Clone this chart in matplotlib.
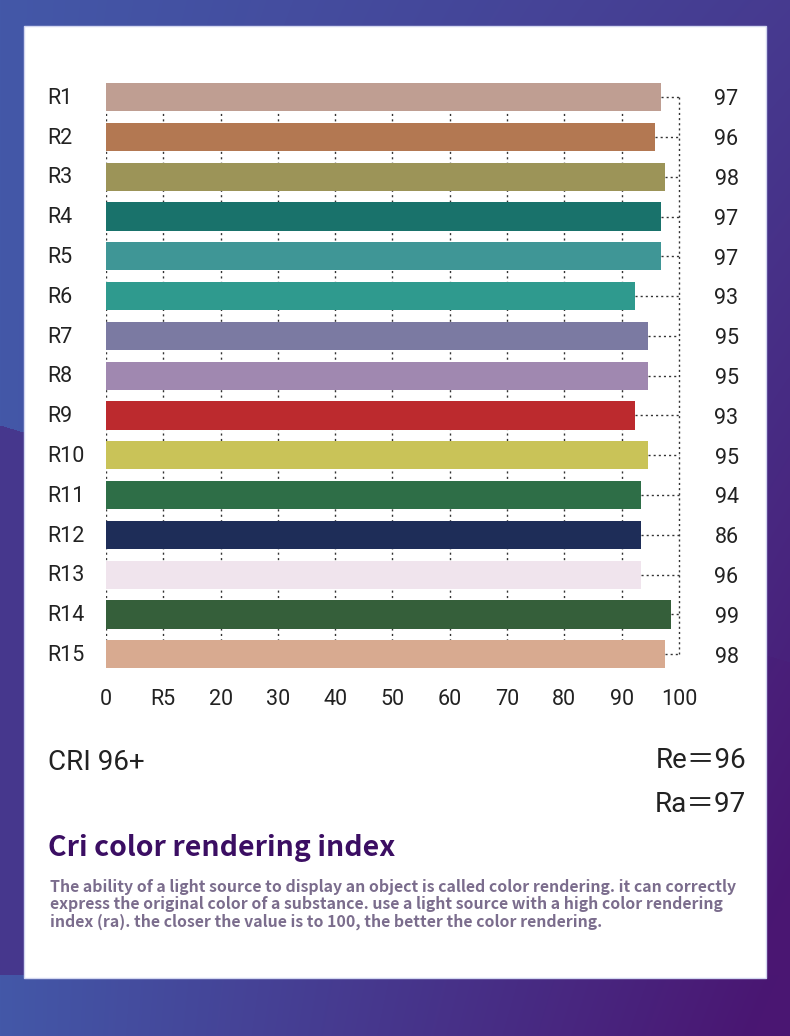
import numpy as np
import matplotlib
matplotlib.use('Agg')
import matplotlib.pyplot as plt
from matplotlib.transforms import blended_transform_factory
from matplotlib.patches import Rectangle

categories = ['R1', 'R2', 'R3', 'R4', 'R5', 'R6', 'R7', 'R8', 'R9', 'R10',
              'R11', 'R12', 'R13', 'R14', 'R15']
bar_values = [96.8, 95.8, 97.6, 96.8, 96.8, 92.4, 94.6, 94.6, 92.4, 94.6,
              93.4, 93.4, 93.4, 98.6, 97.6]
label_values = [97, 96, 98, 97, 97, 93, 95, 95, 93, 95, 94, 86, 96, 99, 98]
bar_colors = ['#bf9e92', '#b37852', '#9c9458', '#19726b', '#3f9696',
              '#2f9a8e', '#7b7aa2', '#a088b0', '#bc2a2e', '#c9c358',
              '#2e6e47', '#1e2d58', '#f0e4ed', '#355f3a', '#d8aa90']
tick_values = [0, 10, 20, 30, 40, 50, 60, 70, 80, 90, 100]
tick_labels = ['0', 'R5', '20', '30', '40', '50', '60', '70', '80', '90', '100']

plt.rcParams['font.family'] = ['Roboto', 'DejaVu Sans']

W, H = 790, 1036
fig = plt.figure(figsize=(W / 100, H / 100), dpi=100)

# background
bg = fig.add_axes([0, 0, 1, 1])
bg.set_xlim(0, W)
bg.set_ylim(H, 0)
bg.axis('off')
yy, xx = np.mgrid[0:H, 0:W].astype(float)
t = (xx / W) * (0.45 + 0.6 * yy / H)
mask = (yy > 425 + 0.3 * xx) & (yy < 975)
t = t + mask * 0.5 * np.exp(-xx / 300.0)
t = np.clip(t, 0, 1)
blue = np.array([67, 88, 168]) / 255.0
purple = np.array([74, 22, 114]) / 255.0
img = blue[None, None, :] * (1 - t[..., None]) + purple[None, None, :] * t[..., None]
bg.imshow(img, extent=(0, W, H, 0), aspect='auto', zorder=0)
bg.add_patch(Rectangle((24, 26), 742, 952, facecolor='white',
                       edgecolor='#d3d7f0', lw=1, zorder=1))

# main chart
ax = fig.add_axes([106 / W, 1 - 668.4 / H, 573 / W, 585.4 / H])
ax.patch.set_alpha(0)
for s in ax.spines.values():
    s.set_visible(False)
y = np.arange(len(categories))
ax.set_xlim(0, 100)
ax.set_ylim(len(categories) - 1 + 0.355, -0.355)

ax.barh(y, bar_values, height=0.71, color=bar_colors, zorder=3)
for v in tick_values[:-1]:
    ax.axvline(v, color='#333333', lw=1.0, ls=(0, (1.5, 2.4)), zorder=1)
ax.hlines(y, bar_values, 100, colors='#333333', lw=1.0,
          linestyles=(0, (1.5, 2.2)), zorder=2, clip_on=False)
ax.vlines(100, 0, len(categories) - 1, colors='#333333', lw=1.0,
          linestyles=(0, (1.5, 2.2)), zorder=2, clip_on=False)

ax.set_xticks(tick_values, tick_labels)
ax.set_yticks([])
ax.tick_params(axis='x', length=0, pad=15, labelsize=15.5, labelcolor='#222222')

trans = blended_transform_factory(fig.transFigure, ax.transData)
for i, c in enumerate(categories):
    ax.text(47 / W, i + 0.03, c, transform=trans, ha='left', va='center',
            fontsize=15.5, color='#222222')
for i, v in enumerate(label_values):
    ax.text(726.5 / W, i + 0.07, str(v), transform=trans, ha='center',
            va='center', fontsize=15.5, color='#222222')

# footer texts
fig.text(48 / W, 1 - 762 / H, 'CRI 96+', ha='left', va='center',
         fontsize=20, color='#222222')
fig.text(746 / W, 1 - 761 / H, 'Re＝96', ha='right', va='center',
         fontsize=20, color='#222222', family=['Roboto', 'Noto Sans CJK SC'])
fig.text(746 / W, 1 - 804 / H, 'Ra＝97', ha='right', va='center',
         fontsize=20, color='#222222', family=['Roboto', 'Noto Sans CJK SC'])

fig.text(48 / W, 1 - 848 / H, 'Cri color rendering index', ha='left',
         va='center', fontsize=20.5, fontweight='bold', color='#3b0e63',
         family=['Noto Sans CJK SC', 'DejaVu Sans'])

desc_lines = [
    'The ability of a light source to display an object is called color rendering. it can correctly',
    'express the original color of a substance. use a light source with a high color rendering',
    'index (ra). the closer the value is to 100, the better the color rendering.',
]
for k, line in enumerate(desc_lines):
    fig.text(50 / W, 1 - (887 + 17.5 * k) / H, line, ha='left', va='center',
             fontsize=11.4, fontweight='bold', color='#7b6d8d',
             family=['Noto Sans CJK SC', 'DejaVu Sans'])

fig.savefig('out.png', dpi=100)
